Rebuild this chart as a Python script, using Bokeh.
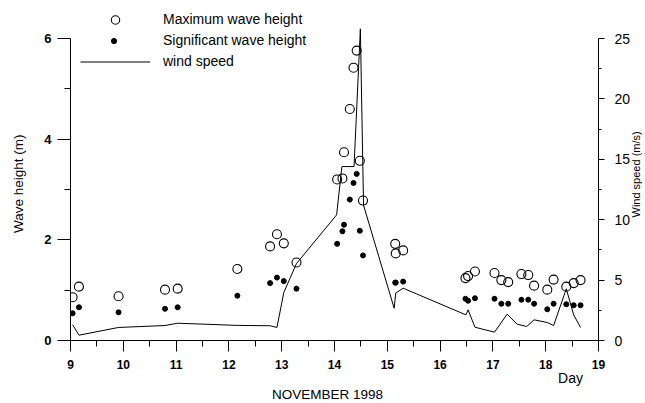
import math

from bokeh.plotting import figure
from bokeh.models import (Range1d, LinearAxis, FixedTicker, Legend,
                          LegendItem)
from bokeh.embed import file_html
from bokeh.resources import INLINE

# Observation times (day of November 1998)
day = [9.04, 9.16, 9.91, 10.79, 11.03, 12.16, 12.78, 12.91, 13.04, 13.28,
       14.05, 14.15, 14.18, 14.29, 14.36, 14.42, 14.48, 14.54,
       15.15, 15.16, 15.30, 16.48, 16.53, 16.66, 17.03, 17.16, 17.29,
       17.54, 17.67, 17.78, 18.03, 18.15, 18.39, 18.53, 18.66]

# Maximum wave height (m)
hmax = [0.86, 1.07, 0.88, 1.01, 1.03, 1.42, 1.87, 2.11, 1.93, 1.55,
        3.20, 3.22, 3.74, 4.60, 5.42, 5.76, 3.57, 2.78,
        1.92, 1.73, 1.79, 1.24, 1.28, 1.37, 1.34, 1.20, 1.16,
        1.32, 1.30, 1.09, 1.01, 1.21, 1.07, 1.14, 1.20]

# Significant wave height (m)
hsig = [0.54, 0.66, 0.56, 0.63, 0.66, 0.89, 1.14, 1.25, 1.18, 1.03,
        1.92, 2.17, 2.30, 2.80, 3.13, 3.31, 2.18, 1.69,
        1.15, 1.15, 1.17, 0.83, 0.79, 0.84, 0.83, 0.73, 0.73,
        0.81, 0.81, 0.73, 0.62, 0.73, 0.72, 0.70, 0.70]

# Wind speed record (m/s)
wind_day = [9.04, 9.16, 9.91, 10.79, 11.03, 12.16, 12.78, 12.91, 13.04, 13.28,
            14.04, 14.14, 14.37, 14.49, 14.55, 15.13, 15.16, 15.30,
            16.49, 16.53, 16.66, 17.03, 17.27, 17.46, 17.64, 17.78,
            18.03, 18.15, 18.39, 18.53, 18.66]
wind_speed = [1.30, 0.44, 1.08, 1.24, 1.43, 1.25, 1.22, 1.08, 3.97, 6.37,
              10.4, 14.4, 14.4, 25.8, 11.2, 2.67, 3.92, 4.33,
              2.12, 2.54, 1.10, 0.69, 2.18, 1.35, 1.16, 1.71,
              1.49, 1.24, 4.28, 2.12, 1.08]

x_ticks = list(range(9, 20))
x_minor = [d + 0.5 for d in range(9, 19)]
h_ticks = [0, 2, 4, 6]
h_minor = [1, 3, 5]
w_ticks = [0, 5, 10, 15, 20, 25]
w_minor = [2.5, 7.5, 12.5, 17.5, 22.5]

FONT = "Liberation Sans"
FRAME_W = 528
FRAME_H = 340
LEFT = 70
H_TOP = FRAME_H / (302 / 6)          # 6 m sits 302 px above the x axis
W_TOP = H_TOP * 25 / 6               # 25 m/s lines up with 6 m

p = figure(frame_width=FRAME_W, frame_height=FRAME_H,
           x_range=Range1d(9, 19), y_range=Range1d(0, H_TOP),
           output_backend="svg", toolbar_location=None,
           min_border_left=LEFT, min_border_right=47,
           min_border_top=0, min_border_bottom=5)
p.outline_line_color = None
p.xgrid.visible = False
p.ygrid.visible = False
p.background_fill_color = "white"
p.border_fill_color = "white"

# "wind" carries the m/s scale; "px" ranges place the axis titles by pixel
p.extra_y_ranges = {"wind": Range1d(0, W_TOP), "px": Range1d(FRAME_H, 0)}
p.extra_x_ranges = {"px": Range1d(LEFT, LEFT + FRAME_W)}

r_wind = p.line(wind_day, wind_speed, y_range_name="wind",
                line_color="black", line_width=1)
r_max = p.scatter(day, hmax, marker="circle", size=9, fill_color=None,
                  line_color="black", line_width=1.1)
r_sig = p.scatter(day, hsig, marker="circle", size=5, fill_color="black",
                  line_color="black")


def style_axis(ax, ticks, minor, tick_out, minor_out, standoff, size, bold):
    ax.ticker = FixedTicker(ticks=ticks, minor_ticks=minor)
    ax.axis_line_color = "black"
    ax.axis_line_width = 1
    ax.major_tick_line_color = "black"
    ax.minor_tick_line_color = "black"
    ax.major_tick_in = 0
    ax.minor_tick_in = 0
    ax.major_tick_out = tick_out
    ax.minor_tick_out = minor_out
    ax.major_label_standoff = standoff
    ax.major_label_text_font = FONT
    ax.major_label_text_font_size = size
    ax.major_label_text_color = "black"
    ax.major_label_text_font_style = "bold" if bold else "normal"


def title_axis(ax, pos, text, standoff, size, angle=None):
    # An axis without line or ticks whose single label is a title
    ax.ticker = FixedTicker(ticks=[pos], minor_ticks=[])
    ax.major_label_overrides = {pos: text}
    ax.axis_line_color = None
    ax.major_tick_line_color = None
    ax.minor_tick_line_color = None
    ax.major_tick_in = 0
    ax.major_tick_out = 0
    ax.minor_tick_in = 0
    ax.minor_tick_out = 0
    ax.major_label_standoff = standoff
    ax.major_label_text_font = FONT
    ax.major_label_text_font_size = size
    ax.major_label_text_color = "black"
    if angle is not None:
        ax.major_label_orientation = angle


xax = p.xaxis[0]
style_axis(xax, x_ticks, x_minor, 11, 6, 8, "12px", True)

yax = p.yaxis[0]
yax.bounds = (0, 6)
style_axis(yax, h_ticks, h_minor, 13, 6, 6, "13px", True)

wax = LinearAxis(y_range_name="wind", bounds=(0, 25))
style_axis(wax, w_ticks, w_minor, 6, 3, 10, "14px", False)
p.add_layout(wax, "right")

# Axis titles
t_left = LinearAxis(y_range_name="px")
title_axis(t_left, 134, "Wave height (m)", 23, "13.5px", math.pi / 2)
p.add_layout(t_left, "left")

t_right = LinearAxis(y_range_name="px")
title_axis(t_right, 217, "Wind speed (m/s)", 2, "11px", math.pi / 2)
p.add_layout(t_right, "right")

t_day = LinearAxis(x_range_name="px")
title_axis(t_day, 570, "Day", -2, "14px")
p.add_layout(t_day, "below")

t_month = LinearAxis(x_range_name="px")
title_axis(t_month, 327, "NOVEMBER 1998", -2, "13.5px")
p.add_layout(t_month, "below")


def make_legend(items, loc, gw, gh, standoff, spacing):
    return Legend(items=items, location=loc, glyph_width=gw, glyph_height=gh,
                  label_height=gh, label_standoff=standoff, spacing=spacing,
                  padding=0, margin=0, border_line_color=None,
                  background_fill_alpha=0, label_text_font=FONT,
                  label_text_font_size="14px", label_text_color="black")


leg_a = make_legend([LegendItem(label="Maximum wave height", renderers=[r_max]),
                     LegendItem(label="wind speed", renderers=[r_wind])],
                    (10, 268.5), 70, 21, 13, 21)
leg_b = make_legend([LegendItem(label="Significant wave height", renderers=[r_sig])],
                    (37, 289.5), 13, 21, 43, 0)
p.add_layout(leg_a)
p.add_layout(leg_b)

open("out.html", "w").write(file_html(p, INLINE))
